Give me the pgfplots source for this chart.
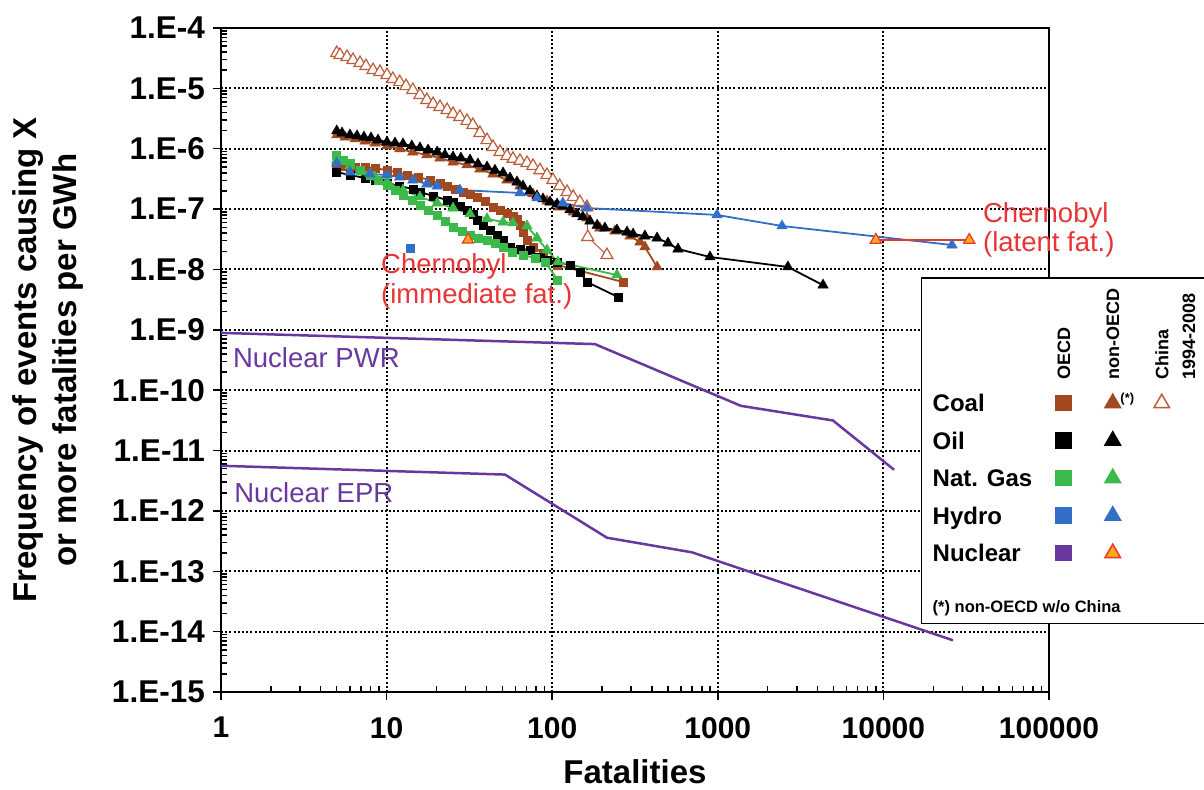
\documentclass[border=0pt]{standalone}
\usepackage{fontspec}
\setmainfont{Liberation Sans}
\usepackage{pgfplots}
\pgfplotsset{compat=1.18}
\definecolor{coal}{RGB}{163,73,31}
\definecolor{china}{RGB}{185,95,60}
\definecolor{gas}{RGB}{60,185,75}
\definecolor{hydro}{RGB}{50,112,200}
\definecolor{nucl}{RGB}{105,55,160}
\definecolor{nucfill}{RGB}{255,170,30}
\definecolor{nucedge}{RGB}{235,55,40}
\definecolor{chred}{RGB}{232,52,52}
\newcommand{\lgfont}{\fontsize{24bp}{28bp}\selectfont\bfseries}
\newcommand{\hdfont}{\fontsize{18bp}{20bp}\selectfont\bfseries}
\newcommand{\ftfont}{\fontsize{16.5bp}{18bp}\selectfont\bfseries}
\newcommand{\lgtxt}[1]{\addlegendimage{legend image code/.code={}}\addlegendentry{\makebox[107bp][l]{#1}}}
\newcommand{\lgsym}[1]{\addlegendimage{legend image code/.code={\path[draw=none,fill=none] (-24bp,-18.75bp) rectangle (24bp,18.75bp);\draw[#1] plot coordinates {(0bp,0bp)};}}\addlegendentry{\mbox{}}}
\newcommand{\lgblank}{\addlegendimage{legend image code/.code={\path[draw=none,fill=none] (-24bp,-18.75bp) rectangle (24bp,18.75bp);}}\addlegendentry{\mbox{}}}
\newcommand{\lghead}[1]{\addlegendimage{legend image code/.code={\path[draw=none,fill=none] (-24bp,-4bp) rectangle (24bp,0bp);#1}}\addlegendentry{\mbox{}}}
\pgfplotsset{
  dsq/.style={mark=square*, mark size=4bp, line width=1.8bp, mark options={line width=0.5bp}},
  dtri/.style={mark=triangle*, mark size=6bp, line width=1.8bp, mark options={line width=0.5bp}},
}
\begin{document}
\begin{tikzpicture}
\begin{axis}[
  at={(0,0)}, anchor=south west,
  scale only axis, width=828bp, height=664bp,
  xmode=log, ymode=log,
  xmin=1, xmax=100000, ymin=1e-15, ymax=1e-4,
  clip=false,
  axis line style={line width=2.5bp},
  tick pos=left,
  tick align=inside,
  major tick length=-8bp, minor tick length=6bp,
  every tick/.style={black, line width=1.5bp},
  xtick={1,10,100,1000,10000,100000},
  xticklabels={1,10,100,1000,10000,100000},
  minor xtick={2,3,4,5,6,7,8,9,20,30,40,50,60,70,80,90,200,300,400,500,600,700,800,900,2000,3000,4000,5000,6000,7000,8000,9000,20000,30000,40000,50000,60000,70000,80000,90000},
  ytick={1e-15,1e-14,1e-13,1e-12,1e-11,1e-10,1e-9,1e-8,1e-7,1e-6,1e-5,1e-4},
  yticklabels={1.E-15,1.E-14,1.E-13,1.E-12,1.E-11,1.E-10,1.E-9,1.E-8,1.E-7,1.E-6,1.E-5,1.E-4},
  minor ytick={2e-15,3e-15,4e-15,5e-15,6e-15,7e-15,8e-15,9e-15,
    2e-14,3e-14,4e-14,5e-14,6e-14,7e-14,8e-14,9e-14,
    2e-13,3e-13,4e-13,5e-13,6e-13,7e-13,8e-13,9e-13,
    2e-12,3e-12,4e-12,5e-12,6e-12,7e-12,8e-12,9e-12,
    2e-11,3e-11,4e-11,5e-11,6e-11,7e-11,8e-11,9e-11,
    2e-10,3e-10,4e-10,5e-10,6e-10,7e-10,8e-10,9e-10,
    2e-9,3e-9,4e-9,5e-9,6e-9,7e-9,8e-9,9e-9,
    2e-8,3e-8,4e-8,5e-8,6e-8,7e-8,8e-8,9e-8,
    2e-7,3e-7,4e-7,5e-7,6e-7,7e-7,8e-7,9e-7,
    2e-6,3e-6,4e-6,5e-6,6e-6,7e-6,8e-6,9e-6,
    2e-5,3e-5,4e-5,5e-5,6e-5,7e-5,8e-5,9e-5},
  xmajorgrids, ymajorgrids,
  major grid style={black, line width=2bp, dash pattern=on 2bp off 2.2bp},
  xticklabel style={anchor=north, inner sep=0pt, yshift=-25bp, font=\fontsize{30bp}{32bp}\selectfont\bfseries},
  yticklabel style={anchor=east, inner sep=0pt, xshift=-16bp, font=\fontsize{31.5bp}{33bp}\selectfont\bfseries},
  xlabel={Fatalities},
  ylabel={Frequency of events causing X\\or more fatalities per GWh},
  every axis x label/.style={at={(axis description cs:0.5,0)}, anchor=north, yshift=-67bp, inner sep=0pt, font=\fontsize{33bp}{36bp}\selectfont\bfseries},
  every axis y label/.style={at={(axis description cs:-0.2524,0.5)}, rotate=90, anchor=north, inner sep=0pt, align=center, font=\fontsize{33bp}{40bp}\selectfont\bfseries},
  legend columns=4,
  legend cell align=left,
  legend style={at={(0.8454,0.625)}, anchor=north west, draw=black, line width=1.5bp, fill=white,
    inner xsep=11bp, inner ysep=11bp, column sep=0pt, row sep=0pt,
    nodes={inner sep=0pt, text depth=0pt}, font=\lgfont},
]
% China coal 1994-2008
\addplot[forget plot, color=china, line width=1bp, mark=triangle*, mark size=7bp, mark options={fill=white, draw=china, line width=1.2bp}] coordinates {
(5,3.85e-5) (5.23,3.57e-5) (5.77,3.31e-5) (6.27,2.95e-5) (6.91,2.63e-5) (7.51,2.34e-5) (8.28,2.01e-5) (9.12,1.87e-5) (10.05,1.66e-5) (10.9,1.43e-5) (12.0,1.27e-5) (13.1,1.09e-5) (14.4,9.4e-6) (15.9,7.76e-6) (17.5,6.41e-6) (19.1,5.5e-6) (21.0,4.91e-6) (23.2,4.38e-6) (25.2,3.76e-6) (27.7,3.36e-6) (30.6,2.88e-6) (33.2,2.47e-6) (36.6,1.82e-6) (40.4,1.39e-6) (43.9,1.07e-6) (48.4,8.8e-7) (53.3,7.6e-7) (58.0,6.8e-7) (63.9,6.3e-7) (70.5,5.8e-7) (76.6,5.2e-7) (84.4,4.4e-7) (93.0,3.67e-7) (101,3.03e-7) (111,2.41e-7) (123,1.92e-7) (134,1.59e-7) (147,1.31e-7) (162,1.08e-7) (164,3.44e-8) (214,1.73e-8)};
% non-OECD coal
\addplot[forget plot, color=coal, dtri] coordinates {
(5,1.69e-6) (5.61,1.56e-6) (6.45,1.45e-6) (7.41,1.34e-6) (8.51,1.24e-6) (10.05,1.11e-6) (12.0,9.9e-7) (14.4,8.8e-7) (17.5,7.9e-7) (21.0,7.0e-7) (25.2,6.0e-7) (30.6,5.4e-7) (36.6,4.6e-7) (43.9,3.81e-7) (53.3,3.03e-7) (63.9,2.41e-7) (76.6,1.78e-7) (93.0,1.36e-7) (111,1.08e-7) (134,8.95e-8) (162,7.1e-8) (194,4.86e-8) (239,4.33e-8) (295,3.58e-8) (339,2.85e-8) (363,2.36e-8) (430,1.10e-8)};
% non-OECD oil
\addplot[forget plot, color=black, dtri] coordinates {
(5,1.97e-6) (5.38,1.82e-6) (6.01,1.69e-6) (6.63,1.63e-6) (7.30,1.56e-6) (8.05,1.51e-6) (8.87,1.39e-6) (10.05,1.29e-6) (11.24,1.24e-6) (12.56,1.20e-6) (14.2,1.11e-6) (15.9,1.03e-6) (17.8,9.5e-7) (20.2,8.8e-7) (22.5,7.9e-7) (25.2,7.3e-7) (28.1,7.0e-7) (31.9,6.5e-7) (35.6,5.6e-7) (40.4,4.98e-7) (45.1,4.4e-7) (50.5,3.96e-7) (55.6,3.27e-7) (61.3,2.81e-7) (66.6,2.41e-7) (73.4,2.0e-7) (80.9,1.65e-7) (88.0,1.47e-7) (97.0,1.31e-7) (107,1.21e-7) (116,1.12e-7) (128,9.7e-8) (141,8.3e-8) (153,7.4e-8) (169,6.35e-8) (187,5.4e-8) (208,4.86e-8) (246,4.5e-8) (283,4.17e-8) (308,3.86e-8) (363,3.58e-8) (430,3.32e-8) (500,2.74e-8) (575,2.18e-8) (897,1.61e-8) (2650,1.10e-8) (4320,5.5e-9)};
% OECD coal
\addplot[forget plot, color=coal, dsq] coordinates {
(5,5.4e-7) (5.61,5.2e-7) (6.45,4.98e-7) (7.41,4.98e-7) (8.51,4.8e-7) (10.05,4.4e-7) (11.56,4.1e-7) (13.3,3.67e-7) (15.5,3.40e-7) (18.3,3.03e-7) (21.0,2.70e-7) (23.2,2.41e-7) (25.9,2.15e-7) (28.9,1.92e-7) (31.9,1.78e-7) (35.2,1.59e-7) (39.3,1.36e-7) (43.9,1.08e-7) (48.4,9.7e-8) (53.3,8.6e-8) (58.0,7.7e-8) (61.3,6.9e-8) (63.9,5.4e-8) (66.6,4.17e-8) (70.5,3.08e-8) (76.6,2.36e-8) (88.0,1.87e-8) (107,1.19e-8) (268,6.2e-9)};
% OECD oil
\addplot[forget plot, color=black, dsq] coordinates {
(5,4.1e-7) (6.01,3.67e-7) (7.41,3.27e-7) (8.51,3.03e-7) (10.05,2.70e-7) (12.0,2.41e-7) (14.4,2.15e-7) (15.9,1.92e-7) (19.1,1.65e-7) (23.2,1.41e-7) (25.2,1.31e-7) (27.7,1.12e-7) (30.6,9.7e-8) (33.2,8.3e-8) (35.2,6.6e-8) (38.2,5.4e-8) (42.1,4.5e-8) (46.4,3.72e-8) (50.5,3.08e-8) (55.6,2.36e-8) (63.9,2.18e-8) (73.4,2.10e-8) (84.4,1.61e-8) (93.0,1.43e-8) (107,1.33e-8) (128,1.19e-8) (147,9.1e-9) (162,6.2e-9) (250,3.49e-9)};
% OECD gas
\addplot[forget plot, color=gas, dsq] coordinates {
(5,7.9e-7) (5.45,6.5e-7) (6.01,5.8e-7) (6.91,4.4e-7) (7.94,3.67e-7) (8.87,3.03e-7) (10.05,2.51e-7) (11.24,2.07e-7) (12.56,1.71e-7) (14.2,1.41e-7) (15.9,1.17e-7) (17.8,9.7e-8) (20.2,8.0e-8) (22.5,6.35e-8) (25.2,5.05e-8) (28.5,4.33e-8) (31.9,3.72e-8) (35.6,3.32e-8) (40.4,3.08e-8) (45.1,2.74e-8) (50.5,2.36e-8) (57.2,1.95e-8) (66.6,1.73e-8) (78.7,1.55e-8) (90.5,1.33e-8) (108,6.7e-9)};
% non-OECD gas
\addplot[forget plot, color=gas, dtri] coordinates {
(5,6.5e-7) (6.01,5.2e-7) (7.10,4.1e-7) (8.51,3.40e-7) (10.05,2.81e-7) (12.56,2.07e-7) (15.9,1.59e-7) (20.2,1.26e-7) (25.2,1.04e-7) (31.9,8.3e-8) (40.4,6.9e-8) (50.5,6.1e-8) (58.0,5.9e-8) (70.5,5.25e-8) (80.9,3.32e-8) (93.0,2.10e-8) (108,1.33e-8) (246,8.1e-9)};
% non-OECD hydro
\addplot[forget plot, color=hydro, dtri] coordinates {
(5,5.8e-7) (6.01,4.1e-7) (7.93,3.81e-7) (10.05,3.67e-7) (12.0,3.40e-7) (14.4,3.03e-7) (17.5,2.60e-7) (20.2,2.41e-7) (27.7,2.07e-7) (63.9,1.85e-7) (80.9,1.53e-7) (116,1.26e-7) (162,1.04e-7) (989,8.0e-8) (2442,5.25e-8) (25950,2.54e-8)};
% OECD hydro
\addplot[forget plot, only marks, color=hydro, mark=square*, mark size=4bp] coordinates {(13.8,2.26e-8)};
% Nuclear non-OECD (Chernobyl)
\addplot[forget plot, only marks, mark=triangle*, mark size=6.5bp, mark options={fill=nucfill, draw=nucedge, line width=1.2bp}] coordinates {(31,3.1e-8)};
\addplot[forget plot, color=nucedge, line width=1.8bp, mark=triangle*, mark size=6.5bp, mark options={fill=nucfill, draw=nucedge, line width=1.2bp}] coordinates {(9000,3.08e-8) (33000,3.08e-8)};
% Nuclear PWR / EPR
\addplot[forget plot, color=nucl, line width=2.5bp] coordinates {(1,8.9e-10) (181,5.8e-10) (1380,5.5e-11) (4960,3.15e-11) (11600,4.8e-12)};
\addplot[forget plot, color=nucl, line width=2.5bp] coordinates {(1,5.6e-12) (51.9,4.0e-12) (214,3.6e-13) (699,2.06e-13) (26300,7.2e-15)};
% annotations
\node[anchor=west, align=left, inner sep=0pt, text=chred, font=\fontsize{27.5bp}{29.5bp}\selectfont] at (axis cs:9.25,6.4e-9) {Chernobyl\\(immediate fat.)};
\node[anchor=west, align=left, inner sep=0pt, text=chred, font=\fontsize{27.5bp}{29.5bp}\selectfont] at (axis cs:39900,4.5e-8) {Chernobyl\\(latent fat.)};
\node[anchor=west, inner sep=0pt, text=nucl, font=\fontsize{27.5bp}{29.5bp}\selectfont] at (axis cs:1.18,3.41e-10) {Nuclear PWR};
\node[anchor=west, inner sep=0pt, text=nucl, font=\fontsize{27.5bp}{29.5bp}\selectfont] at (axis cs:1.2,1.98e-12) {Nuclear EPR};
% legend
\lgtxt{}
\lghead{\node[rotate=90, anchor=west, inner sep=0pt, font=\hdfont] at (0bp,0bp) {OECD};}
\lghead{\node[rotate=90, anchor=west, inner sep=0pt, font=\hdfont] at (0bp,0bp) {non-OECD};}
\lghead{\node[rotate=90, anchor=west, inner sep=0pt, font=\hdfont] at (0bp,0bp) {China};\node[rotate=90, anchor=west, inner sep=0pt, font=\hdfont] at (27bp,0bp) {1994-2008};}
\lgtxt{Coal}
\lgsym{coal, mark=square*, mark size=7.5bp}
\addlegendimage{legend image code/.code={\path[draw=none,fill=none] (-24bp,-18.75bp) rectangle (24bp,18.75bp);\draw[coal, mark=triangle*, mark size=9bp] plot coordinates {(0bp,0bp)};\node[anchor=west, inner sep=0pt, font=\fontsize{13bp}{14bp}\selectfont\bfseries] at (7bp,5bp) {(*)};}}\addlegendentry{\mbox{}}
\lgsym{china, mark=triangle*, mark size=9bp, mark options={fill=white, draw=china, line width=1.5bp}}
\lgtxt{Oil}
\lgsym{black, mark=square*, mark size=7.5bp}
\lgsym{black, mark=triangle*, mark size=9bp}
\lgblank
\lgtxt{Nat. Gas}
\lgsym{gas, mark=square*, mark size=7.5bp}
\lgsym{gas, mark=triangle*, mark size=9bp}
\lgblank
\lgtxt{Hydro}
\lgsym{hydro, mark=square*, mark size=7.5bp}
\lgsym{hydro, mark=triangle*, mark size=9bp}
\lgblank
\lgtxt{Nuclear}
\lgsym{nucl, mark=square*, mark size=7.5bp}
\lgsym{mark=triangle*, mark size=9bp, mark options={fill=nucfill, draw=nucedge, line width=1.5bp}}
\lgblank
\addlegendimage{legend image code/.code={\path[draw=none,fill=none] (0bp,-5bp) rectangle (0bp,34.5bp);}}
\addlegendentry{\makebox[107bp][l]{\rlap{\ftfont (*) non-OECD w/o China}}}
\end{axis}
\pgfresetboundingbox
\path[use as bounding box] (-221bp,-98bp) rectangle (983bp,692bp);
\end{tikzpicture}
\end{document}
